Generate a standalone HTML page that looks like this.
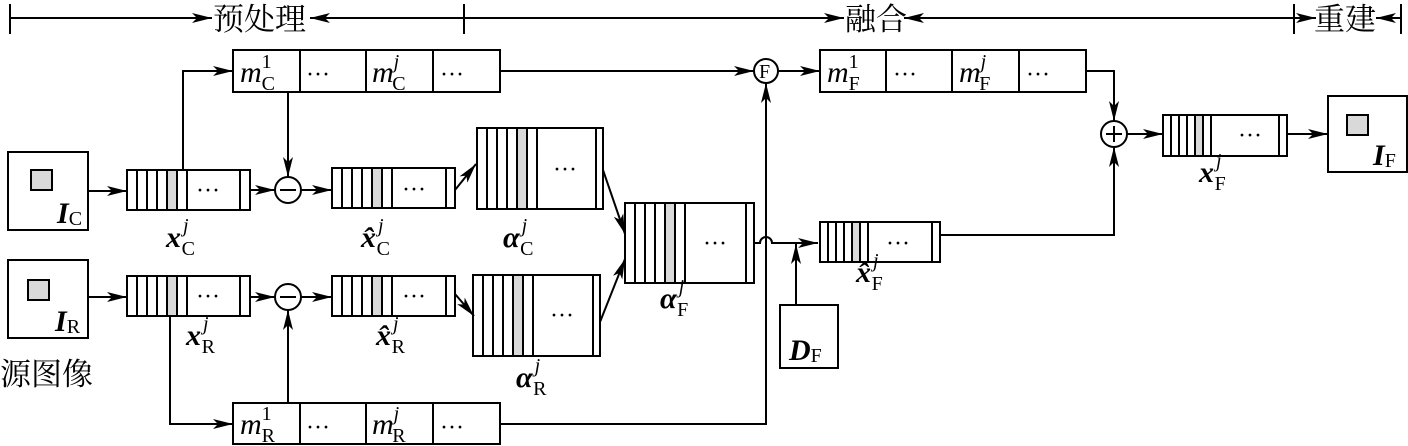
<!DOCTYPE html>
<html><head><meta charset="utf-8">
<style>
html,body{margin:0;padding:0;background:#fff;}
svg{display:block;}
text{font-family:"Liberation Serif","Noto Serif CJK SC",serif;fill:#000;}
.cn{font-family:"Noto Serif CJK SC","Noto Sans CJK SC",serif;font-size:31px;}
.L text{font-size:30px;}
.L tspan.s{font-size:20px;font-style:normal;font-weight:normal;}
.L tspan.j{font-size:20px;font-style:italic;font-weight:normal;}
.L text.d{font-size:24px;}
.it{font-style:italic;}
.b{font-weight:bold;font-style:italic;}
</style></head>
<body>
<svg id="s" width="1408" height="446" viewBox="0 0 1408 446" xmlns="http://www.w3.org/2000/svg">
<defs>
<marker id="a" viewBox="0 0 20 10" refX="20" refY="5" markerWidth="20" markerHeight="10" markerUnits="userSpaceOnUse" orient="auto">
<path d="M0,0 L20,5 L0,10 L5,5 Z" fill="#000"/></marker>
</defs>
<g stroke="#000" stroke-width="2" fill="none">
<line x1="10" y1="4" x2="10" y2="34"/><line x1="464" y1="4" x2="464" y2="34"/>
<line x1="1294" y1="4" x2="1294" y2="34"/><line x1="1401" y1="4" x2="1401" y2="34"/>
<line x1="10" y1="18" x2="212" y2="18" marker-end="url(#a)"/>
<line x1="464" y1="18" x2="310" y2="18" marker-end="url(#a)"/>
<line x1="464" y1="18" x2="844" y2="18" marker-end="url(#a)"/>
<line x1="1294" y1="18" x2="904" y2="18" marker-end="url(#a)"/>
<line x1="1294" y1="18" x2="1316" y2="18" marker-end="url(#a)"/>
<line x1="1401" y1="18" x2="1376" y2="18" marker-end="url(#a)"/>

<rect x="8" y="152" width="80" height="78"/><rect x="31" y="170" width="21" height="20" fill="#d9d9d9"/>
<rect x="8" y="260" width="80" height="78"/><rect x="28" y="280" width="21" height="20" fill="#d9d9d9"/>
<rect x="1328" y="96" width="79" height="76"/><rect x="1347" y="115" width="21" height="20" fill="#d9d9d9"/>
<rect x="780" y="305" width="58" height="63"/>

<rect x="233" y="50" width="267" height="42"/><line x1="300" y1="50" x2="300" y2="92"/><line x1="366" y1="50" x2="366" y2="92"/><line x1="433" y1="50" x2="433" y2="92"/>
<rect x="233" y="403" width="267" height="41"/><line x1="300" y1="403" x2="300" y2="444"/><line x1="366" y1="403" x2="366" y2="444"/><line x1="433" y1="403" x2="433" y2="444"/>
<rect x="820" y="50" width="266" height="42"/><line x1="886" y1="50" x2="886" y2="92"/><line x1="952" y1="50" x2="952" y2="92"/><line x1="1019" y1="50" x2="1019" y2="92"/>

<circle cx="766" cy="71" r="12"/>
<circle cx="288" cy="190" r="13"/><line x1="280" y1="190" x2="296" y2="190"/>
<circle cx="288" cy="297" r="13"/><line x1="280" y1="297" x2="296" y2="297"/>
<circle cx="1114" cy="134" r="13"/><line x1="1106" y1="134" x2="1122" y2="134"/><line x1="1114" y1="126" x2="1114" y2="142"/>

<line x1="88" y1="191" x2="127" y2="191" marker-end="url(#a)"/>
<line x1="88" y1="297" x2="127" y2="297" marker-end="url(#a)"/>
<polyline points="183,170 183,71 233,71" marker-end="url(#a)"/>
<polyline points="170,315 170,424 233,424" marker-end="url(#a)"/>
<line x1="250" y1="190" x2="275" y2="190" marker-end="url(#a)"/>
<line x1="250" y1="297" x2="275" y2="297" marker-end="url(#a)"/>
<line x1="288" y1="92" x2="288" y2="177" marker-end="url(#a)"/>
<line x1="288" y1="403" x2="288" y2="310" marker-end="url(#a)"/>
<line x1="301" y1="190" x2="332" y2="190" marker-end="url(#a)"/>
<line x1="301" y1="297" x2="332" y2="297" marker-end="url(#a)"/>
<line x1="455" y1="190" x2="476" y2="164" marker-end="url(#a)"/>
<line x1="455" y1="294" x2="474" y2="316" marker-end="url(#a)"/>
<line x1="603" y1="170" x2="625" y2="234" marker-end="url(#a)"/>
<line x1="600" y1="322" x2="625" y2="259" marker-end="url(#a)"/>
<line x1="500" y1="71" x2="754" y2="71" marker-end="url(#a)"/>
<polyline points="500,424 766,424 766,83" marker-end="url(#a)"/>
<line x1="778" y1="71" x2="820" y2="71" marker-end="url(#a)"/>
<path d="M754,243 L760,243 A6,6 0 0 1 772,243 L818,243" marker-end="url(#a)"/>
<line x1="796" y1="305" x2="796" y2="244" marker-end="url(#a)"/>
<polyline points="1086,71 1114,71 1114,121" marker-end="url(#a)"/>
<polyline points="940,235 1114,235 1114,147" marker-end="url(#a)"/>
<line x1="1127" y1="134" x2="1163" y2="134" marker-end="url(#a)"/>
<line x1="1287" y1="134" x2="1328" y2="134" marker-end="url(#a)"/>
</g>
<g id="stripes" stroke="#000" stroke-width="2" fill="none"></g>

<text class="cn" x="213" y="30">预处理</text>
<text class="cn" x="845" y="30">融合</text>
<text class="cn" x="1314" y="30">重建</text>
<text class="cn" x="0" y="385">源图像</text>
<text x="759" y="78" style="font-size:20px">F</text>

<g class="L">
<text x="240" y="82" class="it">m<tspan class="s" dy="-14">1</tspan><tspan class="s" dx="-10" dy="22">C</tspan></text>
<text x="372" y="82" class="it">m<tspan class="j" dy="-14">j</tspan><tspan class="s" dx="-7" dy="22">C</tspan></text>
<text x="240" y="434" class="it">m<tspan class="s" dy="-14">1</tspan><tspan class="s" dx="-10" dy="22">R</tspan></text>
<text x="372" y="434" class="it">m<tspan class="j" dy="-14">j</tspan><tspan class="s" dx="-7" dy="22">R</tspan></text>
<text x="827" y="82" class="it">m<tspan class="s" dy="-14">1</tspan><tspan class="s" dx="-10" dy="22">F</tspan></text>
<text x="959" y="82" class="it">m<tspan class="j" dy="-14">j</tspan><tspan class="s" dx="-7" dy="22">F</tspan></text>
<text class="d" x="306" y="82">···</text><text class="d" x="440" y="82">···</text>
<text class="d" x="306" y="435">···</text><text class="d" x="440" y="435">···</text>
<text class="d" x="893" y="82">···</text><text class="d" x="1026" y="82">···</text>

<text x="57" y="223" class="b">I<tspan class="s" dy="2">C</tspan></text>
<text x="55" y="331" class="b">I<tspan class="s" dy="2">R</tspan></text>
<text x="1373" y="165" class="b">I<tspan class="s" dy="2">F</tspan></text>
<text x="789" y="360" class="b">D<tspan class="s" dy="2">F</tspan></text>

<text x="166" y="247" class="b">x<tspan class="j" dx="2" dy="-15">j</tspan><tspan class="s" dx="-7" dy="23">C</tspan></text>
<text x="361" y="247" class="b">x̂<tspan class="j" dx="2" dy="-15">j</tspan><tspan class="s" dx="-7" dy="23">C</tspan></text>
<text x="503" y="247" class="b">α<tspan class="j" dx="2" dy="-15">j</tspan><tspan class="s" dx="-7" dy="23">C</tspan></text>
<text x="660" y="308" class="b">α<tspan class="j" dx="2" dy="-15">j</tspan><tspan class="s" dx="-7" dy="23">F</tspan></text>
<text x="856" y="282" class="b">x̂<tspan class="j" dx="2" dy="-15">j</tspan><tspan class="s" dx="-7" dy="23">F</tspan></text>
<text x="1199" y="182" class="b">x<tspan class="j" dx="2" dy="-15">j</tspan><tspan class="s" dx="-7" dy="23">F</tspan></text>
<text x="186" y="345" class="b">x<tspan class="j" dx="2" dy="-15">j</tspan><tspan class="s" dx="-7" dy="23">R</tspan></text>
<text x="376" y="345" class="b">x̂<tspan class="j" dx="2" dy="-15">j</tspan><tspan class="s" dx="-7" dy="23">R</tspan></text>
<text x="516" y="387" class="b">α<tspan class="j" dx="2" dy="-15">j</tspan><tspan class="s" dx="-7" dy="23">R</tspan></text>

<text class="d" x="196" y="198">···</text>
<text class="d" x="196" y="304">···</text>
<text class="d" x="402" y="197">···</text>
<text class="d" x="402" y="304">···</text>
<text class="d" x="553" y="177">···</text>
<text class="d" x="550" y="323">···</text>
<text class="d" x="703" y="251">···</text>
<text class="d" x="886" y="251">···</text>
<text class="d" x="1238" y="143">···</text>
</g>
</svg>
<script>
var g=document.getElementById('stripes'),NS='http://www.w3.org/2000/svg';
function el(t,a){var e=document.createElementNS(NS,t);for(var k in a)e.setAttribute(k,a[k]);g.appendChild(e);}
function sbox(x,y,w,h,sw,grayIdx,n,lastw){
 for(var i=0;i<n;i++){if(i==grayIdx)el('rect',{x:x+i*sw,y:y,width:sw,height:h,fill:'#d9d9d9',stroke:'none'});}
 el('rect',{x:x,y:y,width:w,height:h});
 for(var i=1;i<=n;i++)el('line',{x1:x+i*sw,y1:y,x2:x+i*sw,y2:y+h});
 el('line',{x1:x+w-lastw,y1:y,x2:x+w-lastw,y2:y+h});
}
sbox(127,170,123,40,10,4,6,10);
sbox(127,276,123,40,10,4,6,10);
sbox(332,168,123,40,10,4,6,9);
sbox(332,276,123,40,10,4,6,9);
sbox(477,128,126,81,10,4,6,7);
sbox(473,275,127,81,10,4,6,7);
sbox(625,203,129,80,10,4,6,8);
sbox(820,222,120,40,8,4,6,8);
sbox(1163,115,124,41,8,4,6,8);
</script>
</body></html>
